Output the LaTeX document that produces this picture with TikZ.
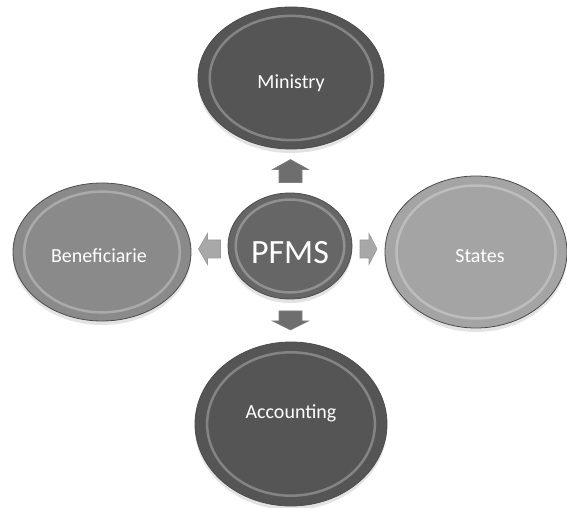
\documentclass[tikz,border=0pt]{standalone}
\usepackage{fontspec}
\setmainfont{Carlito}
\usetikzlibrary{positioning,calc,shapes.geometric,shadows}

\definecolor{darkbub}{HTML}{555555}
\definecolor{midbub}{HTML}{8A8A8A}
\definecolor{lightbub}{HTML}{A4A4A4}
\definecolor{darkarrow}{HTML}{6E6E6E}
\definecolor{lightarrow}{HTML}{A8A8A8}

\tikzset{
    bubble/.style={ellipse, inner sep=0pt, draw=black!70, line width=0.8pt,
        drop shadow={opacity=0.22, shadow xshift=0pt, shadow yshift=-4pt}},
    bubtext/.style={text=white, font=\fontsize{20}{22}\selectfont, inner sep=0pt},
    ring/.style={draw=white, opacity=0.28, line width=2.5pt},
    % block arrow pointing right: length / shaft width / head width / head length
    pics/fatarrow/.style n args={4}{code={
        \path[pic actions] (-#1/2,-#2/2) -- (#1/2-#4,-#2/2) -- (#1/2-#4,-#3/2) -- (#1/2,0)
            -- (#1/2-#4,#3/2) -- (#1/2-#4,#2/2) -- (-#1/2,#2/2) -- cycle;
    }},
    darkfat/.style={fill=darkarrow, draw=black!50, line width=0.6pt},
    lightfat/.style={fill=lightarrow, draw=black!40, line width=0.6pt}
}

\begin{document}
\begin{tikzpicture}[x=1pt, y=1pt]
    \useasboundingbox[fill=white] (0,0) rectangle (567,508);

    % =========================================================================
    % Bubbles
    % =========================================================================
    \node[bubble, fill=darkbub, minimum width=186pt, minimum height=142pt,
        label={[bubtext, yshift=-5pt]center:Ministry}] (min) at (291,430) {};
    \node[bubble, fill=midbub, minimum width=178pt, minimum height=138pt,
        label={[bubtext, yshift=-4pt, xshift=-3pt]center:Beneficiarie}] (ben) at (102,256) {};
    \node[bubble, fill=lightbub, minimum width=182pt, minimum height=152pt,
        label={[bubtext, yshift=-4pt, xshift=4pt]center:States}] (sta) at (476,256) {};
    \node[bubble, fill=darkbub, minimum width=192pt, minimum height=164pt,
        label={[bubtext, yshift=11pt]center:Accounting}] (acc) at (291,84) {};
    \node[bubble, fill=darkbub!90!white, minimum width=124pt, minimum height=106pt,
        label={[bubtext, font=\fontsize{34}{36}\selectfont, yshift=-7pt]center:PFMS}] (pfms) at (290,262) {};

    % Inner bevel rings
    \foreach \bub in {min, ben, sta, acc, pfms} {
        \path let \p1=($(\bub.east)-(\bub.center)$), \p2=($(\bub.north)-(\bub.center)$) in
            [ring] (\bub.center) ellipse ({0.87*\x1} and {0.87*\y2});
    }

    % =========================================================================
    % Block arrows out of PFMS
    % =========================================================================
    \coordinate (upc) at ($(pfms.north)!0.5!(min.south)$);
    \coordinate (downc) at ($(pfms.south)!0.5!(acc.north)$);
    \coordinate (leftc) at ($(pfms.west)!0.5!(ben.east)$);
    \coordinate (rightc) at ($(pfms.east)!0.5!(sta.west)$);

    \pic[darkfat, rotate=90] at (upc) {fatarrow={23}{23}{36}{10}};
    \pic[darkfat, rotate=-90] at (downc) {fatarrow={19}{23}{36}{9}};
    \pic[lightfat, rotate=180] at (leftc) {fatarrow={22}{18}{31}{9}};
    \pic[lightfat] at (rightc) {fatarrow={17}{18}{31}{8}};

\end{tikzpicture}
\end{document}
